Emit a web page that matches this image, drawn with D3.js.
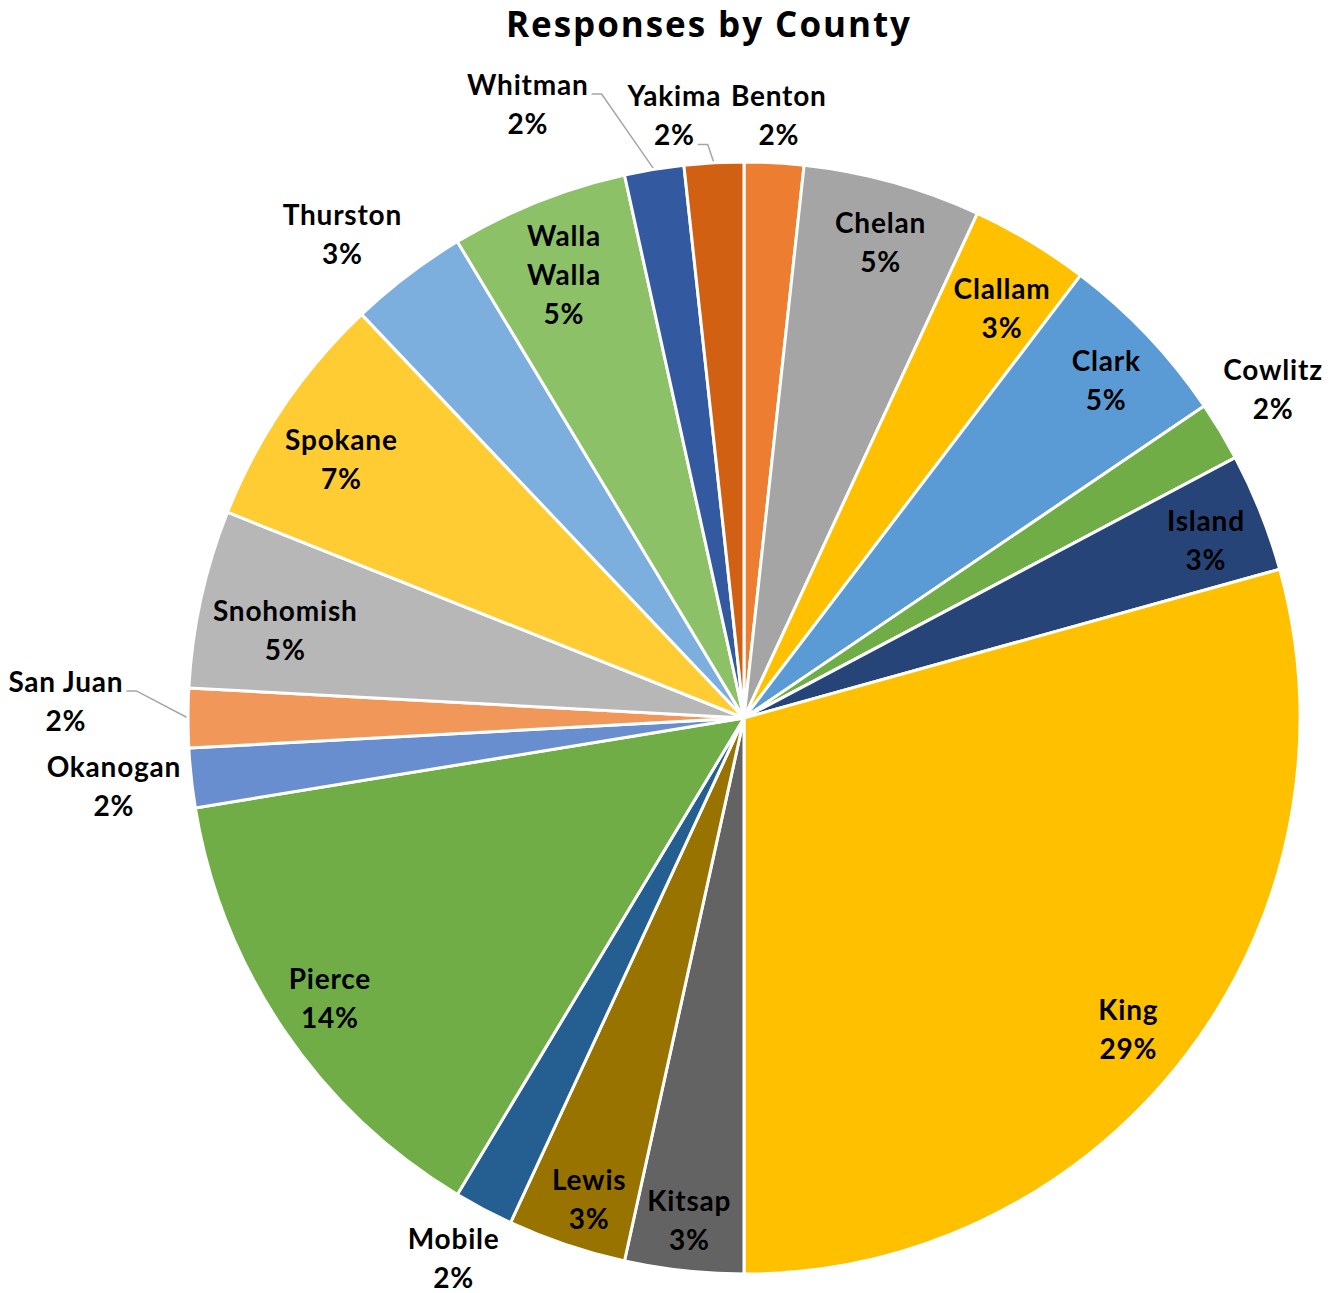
<!DOCTYPE html>
<html>
<head>
<meta charset="utf-8">
<script src="https://cdn.jsdelivr.net/npm/d3@7"></script>
<style>
  html, body { margin: 0; padding: 0; background: #fff; }
  svg { display: block; }
</style>
</head>
<body>
<svg id="chart" width="1335" height="1293"></svg>
<script>
// Survey responses per county (counts), clockwise from 12 o'clock
const counties = ["Benton", "Chelan", "Clallam", "Clark", "Cowlitz", "Island", "King", "Kitsap",
  "Lewis", "Mobile", "Pierce", "Okanogan", "San Juan", "Snohomish", "Spokane", "Thurston",
  "Walla Walla", "Whitman", "Yakima"];
const responses = [1, 3, 2, 3, 1, 2, 17, 2, 2, 1, 8, 1, 1, 3, 4, 2, 3, 1, 1];
const sliceColors = ["#ED7D31", "#A5A5A5", "#FFC000", "#5B9BD5", "#70AD47", "#264478", "#FFC000",
  "#636363", "#997300", "#255E91", "#70AD47", "#698ED0", "#F1975A", "#B7B7B7", "#FFCD33",
  "#7CAFDD", "#8CC168", "#335AA1", "#D26012"];

// Label layout: radius as a fraction of the pie radius, angular nudge in degrees,
// and which label line (if any) a leader line starts from.
const labelLayout = {
  "Benton":      { r: 1.086, da: 0.2 },
  "Chelan":      { r: 0.89,  da: 0.5 },
  "Clallam":     { r: 0.87,  da: 1.2 },
  "Clark":       { r: 0.89,  da: 0.5 },
  "Cowlitz":     { r: 1.12,  da: -0.8 },
  "Island":      { r: 0.89,  da: 0.7 },
  "King":        { r: 0.89,  da: 1.8 },
  "Kitsap":      { r: 0.91,  da: 0 },
  "Lewis":       { r: 0.91,  da: -0.8 },
  "Mobile":      { r: 1.104, da: 0.3 },
  "Pierce":      { r: 0.90,  da: 0 },
  "Okanogan":    { r: 1.14,  da: 0 },
  "San Juan":    { r: 1.22,  da: 1.4, leader: 0 },
  "Snohomish":   { r: 0.84,  da: -1.6 },
  "Spokane":     { r: 0.86,  da: -1.5 },
  "Thurston":    { r: 1.13,  da: -2.5 },
  "Walla Walla": { r: 0.86,  da: -0.4, split: true },
  "Whitman":     { r: 1.17,  da: -10.1, leader: 0 },
  "Yakima":      { r: 1.09,  da: -3.5, leader: 1 }
};

const data = counties.map((name, i) => ({ name, value: responses[i], color: sliceColors[i] }));
const total = d3.sum(responses);

const svg = d3.select("#chart");
const cx = 744, cy = 718, radius = 556;
const lineGap = 39;

svg.append("text")
  .attr("x", 708).attr("y", 37)
  .attr("text-anchor", "middle")
  .attr("textLength", 404)
  .attr("lengthAdjust", "spacing")
  .style("font-family", "'Open Sans', sans-serif")
  .style("font-weight", 700)
  .style("font-size", "35px")
  .attr("fill", "#000")
  .text("Responses by County");

const pie = d3.pie().value(d => d.value).sort(null);
const arcs = pie(data);
const arc = d3.arc().innerRadius(0).outerRadius(radius);

const g = svg.append("g").attr("transform", `translate(${cx},${cy})`);

g.selectAll("path.slice")
  .data(arcs)
  .join("path")
  .attr("class", "slice")
  .attr("d", arc)
  .attr("fill", d => d.data.color)
  .attr("stroke", "#fff")
  .attr("stroke-width", 3)
  .attr("stroke-linejoin", "round");

const polar = (ang, r) => [Math.sin(ang) * r, -Math.cos(ang) * r];

const labels = g.append("g");
arcs.forEach(d => {
  const lay = labelLayout[d.data.name];
  const mid = (d.startAngle + d.endAngle) / 2;
  const [lx, ly] = polar(mid + lay.da * Math.PI / 180, radius * lay.r);
  const pct = Math.round(d.data.value / total * 100) + "%";
  const lines = lay.split ? d.data.name.split(" ").concat([pct]) : [d.data.name, pct];
  const t = labels.append("text")
    .attr("text-anchor", "middle")
    .style("font-family", "Lato, sans-serif")
    .style("font-weight", 700)
    .style("font-size", "28px")
    .style("letter-spacing", "0.8px")
    .attr("fill", "#000");
  const tspans = lines.map((s, i) => t.append("tspan")
    .attr("x", lx)
    .attr("y", ly + (i - (lines.length - 1) / 2) * lineGap)
    .attr("dy", "0.35em")
    .text(s));

  if (lay.leader !== undefined) {
    const bb = tspans[lay.leader].node().getBBox();
    const baseY = ly + (lay.leader - (lines.length - 1) / 2) * lineGap + 9;
    const x0 = bb.x + bb.width + 3;
    const x1 = x0 + 10;
    const [ex, ey] = polar(mid, radius);
    g.insert("polyline", ":first-child")
      .attr("points", [[x0, baseY], [x1, baseY], [ex, ey]].map(p => p.join(",")).join(" "))
      .attr("fill", "none")
      .attr("stroke", "#A6A6A6")
      .attr("stroke-width", 1.5);
  }
});
</script>
</body>
</html>
